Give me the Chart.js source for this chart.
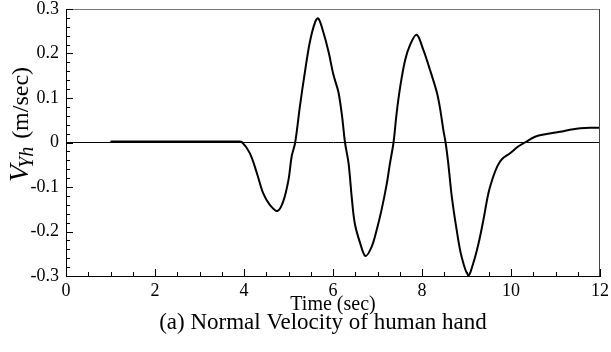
<!DOCTYPE html>
<html>
<head>
<meta charset="utf-8">
<script src="https://cdn.jsdelivr.net/npm/chart.js@4/dist/chart.umd.min.js"></script>
<style>
    html, body { margin: 0; padding: 0; background: #fff; }
    #chart-velocity { display: block; }
</style>
</head>
<body>
<canvas id="chart-velocity" width="611" height="352"></canvas>
<script>
'use strict';

// time (sec) and normal velocity V_Yh (m/sec)
var times = [1, 3.85, 3.95, 4.13, 4.29, 4.43, 4.58, 4.75, 4.88,
    5.0, 5.07, 5.15, 5.26, 5.37, 5.48, 5.60, 5.67, 5.78, 5.90,
    6.01, 6.12, 6.20, 6.27, 6.35, 6.42, 6.49, 6.61, 6.73, 6.87, 6.98,
    7.09, 7.21, 7.28, 7.36, 7.43, 7.51, 7.62, 7.73, 7.88,
    8.03, 8.18, 8.33, 8.40, 8.48, 8.53, 8.59, 8.67, 8.78, 8.89,
    9.04, 9.15, 9.27, 9.38, 9.49, 9.60, 9.70, 9.80, 9.98,
    10.16, 10.31, 10.54, 10.80, 11.10, 11.40, 11.78, 12.0];
var velocity = [0.002, 0.002, 0.001, -0.024, -0.069, -0.114, -0.140, -0.154, -0.133,
    -0.084, -0.032, 0, 0.084, 0.159, 0.226, 0.271, 0.279, 0.249, 0.204,
    0.152, 0.114, 0.062, 0, -0.047, -0.122, -0.182, -0.226, -0.255, -0.234, -0.197,
    -0.152, -0.092, -0.047, 0, 0.066, 0.125, 0.185, 0.219, 0.242,
    0.208, 0.163, 0.114, 0.080, 0.028, 0, -0.047, -0.122, -0.197, -0.257,
    -0.298, -0.272, -0.227, -0.174, -0.115, -0.077, -0.052, -0.037, -0.024,
    -0.009, 0, 0.013, 0.019, 0.024, 0.030, 0.033, 0.033];

var xTicks = [0, 2, 4, 6, 8, 10, 12];
var xTickLabels = ['0', '2', '4', '6', '8', '10', '12'];
var yTicks = [-0.3, -0.2, -0.1, 0, 0.1, 0.2, 0.3];
var yTickLabels = ['-0.3', '-0.2', '-0.1', '0', '0.1', '0.2', '0.3'];

var xTitle = 'Time (sec)';
var caption = '(a) Normal Velocity of human hand';

var serif = '"Liberation Serif", "DejaVu Serif", serif';

var points = [];
for (var i = 0; i < times.length; i++) {
    points.push({x: times[i], y: velocity[i]});
}

// frame, small inward ticks, x title, caption and the rotated y title
var decorations = {
    id: 'decorations',
    afterDraw: function(chart) {
        var c = chart.ctx;
        var area = chart.chartArea;
        var sx = chart.scales.x;
        var sy = chart.scales.y;
        c.save();
        c.lineWidth = 1;
        c.strokeStyle = '#777';
        c.beginPath();
        c.moveTo(area.left, Math.round(area.top) + 0.5);
        c.lineTo(area.right, Math.round(area.top) + 0.5);
        c.stroke();
        c.strokeStyle = '#444';
        c.beginPath();
        c.moveTo(Math.round(area.right) - 0.5, area.top);
        c.lineTo(Math.round(area.right) - 0.5, area.bottom);
        c.stroke();

        c.strokeStyle = '#000';
        c.beginPath();
        for (var t = 0; t <= 12; t += 0.5) {
            var px = Math.round(sx.getPixelForValue(t)) + 0.5;
            var len = (t % 2 === 0) ? 7 : 4;
            c.moveTo(px, area.bottom);
            c.lineTo(px, area.bottom - len);
        }
        for (var k = -15; k <= 15; k++) {
            var v = k * 0.02;
            var py = Math.round(sy.getPixelForValue(v)) + 0.5;
            var ylen = (k % 5 === 0) ? 7 : 4;
            c.moveTo(area.left, py);
            c.lineTo(area.left + ylen, py);
        }
        c.stroke();

        c.fillStyle = '#000';
        c.textAlign = 'center';
        c.textBaseline = 'middle';
        var cx = (area.left + area.right) / 2;
        c.font = '20px ' + serif;
        c.fillText(xTitle, cx, 305);
        c.font = '23px ' + serif;
        c.fillText(caption, cx - 10, 323);

        // V_Yh (m/sec), reading bottom to top
        c.translate(20, 124);
        c.rotate(-Math.PI / 2);
        c.textAlign = 'left';
        c.textBaseline = 'alphabetic';
        var fV = 'italic 28px ' + serif;
        var fSub = 'italic 20px ' + serif;
        var fRest = '24px ' + serif;
        c.font = fV; var wV = c.measureText('V').width;
        c.font = fSub; var wS = c.measureText('Yh').width;
        c.font = fRest; var wR = c.measureText(' (m/sec)').width;
        var x0 = -(wV + wS + wR) / 2;
        var base = 8;
        c.font = fV; c.fillText('V', x0, base);
        c.font = fSub; c.fillText('Yh', x0 + wV - 3, base + 5);
        c.font = fRest; c.fillText(' (m/sec)', x0 + wV + wS - 1, base);
        c.restore();
    }
};

var ctx_velocity = document.getElementById('chart-velocity').getContext('2d');

var chart_velocity = new Chart(ctx_velocity, {
    type: 'line',
    data: {
        datasets: [{
            label: 'V_Yh',
            data: points,
            borderColor: '#000',
            borderWidth: 2,
            pointRadius: 0,
            fill: false,
            tension: 0.35
        }]
    },
    options: {
        responsive: false,
        animation: false,
        layout: {
            padding: {left: 0, right: 0, top: 0, bottom: 0}
        },
        plugins: {
            legend: {display: false},
            tooltip: {enabled: false}
        },
        scales: {
            x: {
                type: 'linear',
                min: 0,
                max: 12,
                afterBuildTicks: function(scale) {
                    scale.ticks = xTicks.map(function(v) { return {value: v}; });
                },
                afterFit: function(scale) {
                    scale.height = 76;
                    scale.paddingLeft = 0;
                    scale.paddingRight = 11;
                },
                ticks: {
                    padding: 4,
                    color: '#000',
                    maxRotation: 0,
                    autoSkip: false,
                    font: {family: serif, size: 18},
                    callback: function(value, index) { return xTickLabels[index]; }
                },
                grid: {display: false, drawTicks: false},
                border: {display: true, color: '#000', width: 1}
            },
            y: {
                type: 'linear',
                min: -0.3,
                max: 0.3,
                afterBuildTicks: function(scale) {
                    scale.ticks = yTicks.map(function(v) { return {value: v}; });
                },
                afterFit: function(scale) {
                    scale.width = 66;
                    scale.paddingTop = 9;
                    scale.paddingBottom = 0;
                },
                ticks: {
                    padding: 7,
                    color: '#000',
                    autoSkip: false,
                    font: {family: serif, size: 18},
                    callback: function(value, index) { return yTickLabels[index]; }
                },
                grid: {
                    drawTicks: false,
                    color: function(c) {
                        return (c.tick && c.tick.value === 0) ? '#000' : 'rgba(0,0,0,0)';
                    },
                    lineWidth: 1
                },
                border: {display: true, color: '#000', width: 1}
            }
        }
    },
    plugins: [decorations]
});
</script>
</body>
</html>
